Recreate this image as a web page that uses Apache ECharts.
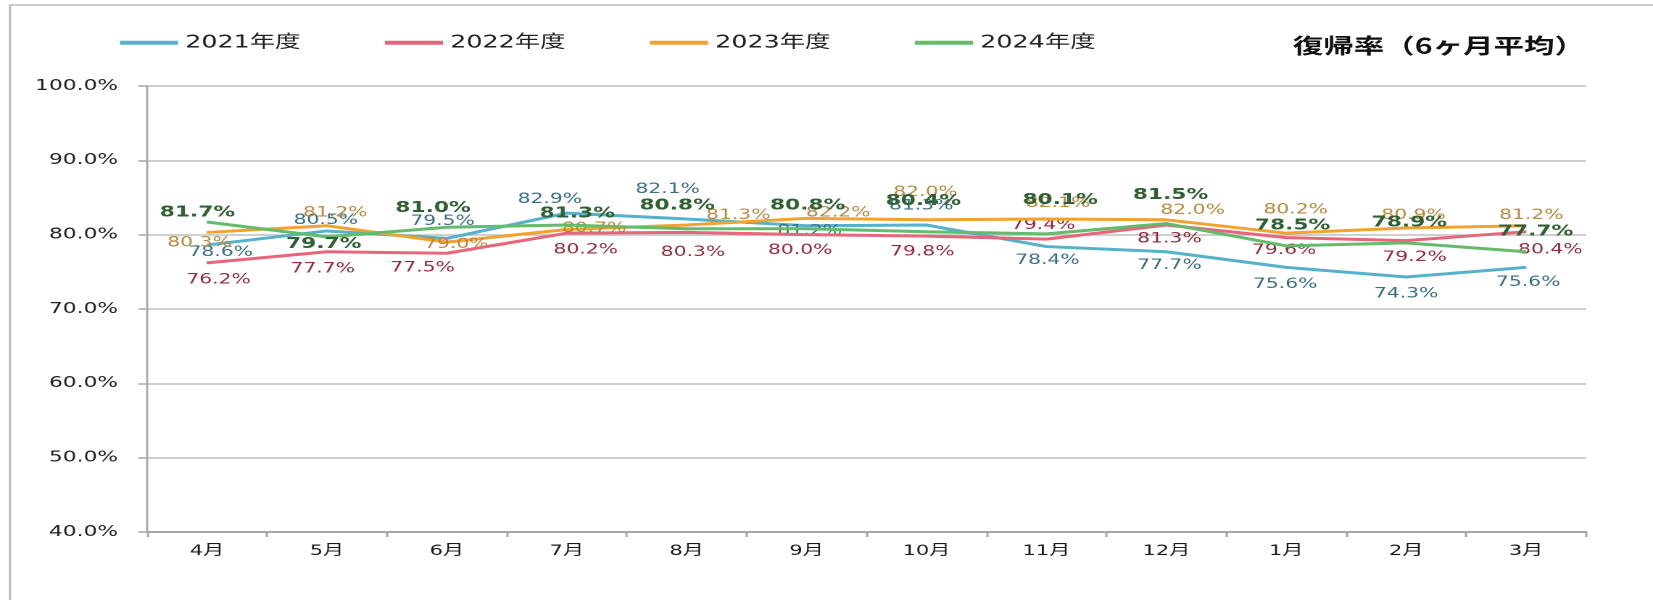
<!DOCTYPE html>
<html>
<head>
<meta charset="utf-8">
<script src="https://cdn.jsdelivr.net/npm/echarts@6/dist/echarts.min.js"></script>
<style>
html,body{margin:0;padding:0;background:#fff;overflow:hidden;width:1653px;height:600px;}
#chart{position:absolute;left:0;top:0;height:600px;transform-origin:0 0;}
</style>
</head>
<body>
<div id="chart"></div>
<script>
// ---- data ----
const categories = ['4月','5月','6月','7月','8月','9月','10月','11月','12月','1月','2月','3月'];
const seriesNames = ['2021年度','2022年度','2023年度','2024年度'];
const values2021 = [78.6, 80.5, 79.5, 82.9, 82.1, 81.2, 81.3, 78.4, 77.7, 75.6, 74.3, 75.6];
const values2022 = [76.2, 77.7, 77.5, 80.2, 80.3, 80.0, 79.8, 79.4, 81.3, 79.6, 79.2, 80.4];
const values2023 = [80.3, 81.2, 79.0, 80.7, 81.3, 82.2, 82.0, 82.1, 82.0, 80.2, 80.9, 81.2];
const values2024 = [81.7, 79.7, 81.0, 81.3, 80.8, 80.8, 80.4, 80.1, 81.5, 78.5, 78.9, 77.7];
const yTickLabels = ['40.0%','50.0%','60.0%','70.0%','80.0%','90.0%','100.0%'];
const titleText = '復帰率（6ヶ月平均）';

// ---- label nudges (reference px: [dx...], [dy...]) ----
const labelDx2021 = [13, -1, -4, -16, -18, 3, -5, 1, 3, -1, 0, 2];
const labelDy2021 = [7, -10, -16, -13, -28, 5, -18, 13, 13, 16, 16, 14];
const labelDx2022 = [11, -4, -23, 18, 6, -6, -4, -3, 3, -2, 8, 23];
const labelDy2022 = [16, 16, 14, 16, 19, 15, 15, -13, 13, 12, 16, 17];
const labelDx2023 = [-7, 8, 9, 26, 49, 30, -1, 11, 25, 9, 7, 5];
const labelDy2023 = [10, -12, 2, -1, -9, -5, -26, -15, -9, -22, -12, -10];
const labelDx2024 = [-9, -3, -13, 10, -9, 1, -3, 13, 4, 6, 3, 9];
const labelDy2024 = [-9, 7, -18, -11, -22, -22, -29, -32, -27, -19, -19, -19];

// ---- layout ----
const S = 1.45;                 // horizontal stretch of the original picture
const REF = 1653 / 1568;
const W = 1653 / S;
const el = document.getElementById('chart');
el.style.width = W + 'px';
el.style.transform = 'scaleX(' + S + ')';

const NUM_FONT = '"DejaVu Sans", "Noto Sans CJK JP", sans-serif';
const lineColors = ['#56b1ca', '#e8667b', '#f2a22e', '#63bb6c'];
const labelColors = ['#396f86', '#922b3e', '#b8893e', '#2f6133'];
const allValues = [values2021, values2022, values2023, values2024];
const allDx = [labelDx2021, labelDx2022, labelDx2023, labelDx2024];
const allDy = [labelDy2021, labelDy2022, labelDy2023, labelDy2024];

const chart = echarts.init(el, null, {devicePixelRatio: 2});

const series = seriesNames.map((name, k) => ({
  name: name,
  type: 'line',
  symbol: 'circle',
  symbolSize: 1,
  z: 2 + k,
  lineStyle: {color: lineColors[k], width: 3},
  itemStyle: {color: lineColors[k]},
  label: {
    show: true,
    position: 'inside',
    formatter: p => p.value.toFixed(1) + '%',
    color: labelColors[k],
    fontFamily: NUM_FONT,
    fontSize: k === 3 ? 15 : 14,
    fontWeight: k === 3 ? 'bold' : 'normal'
  },
  data: allValues[k].map((v, i) => ({
    value: v,
    label: {offset: [allDx[k][i] * REF / S, allDy[k][i] * REF]}
  }))
}));

const legends = seriesNames.map((name, k) => ({
  data: [name],
  left: 120 / S + k * 265 / S,
  top: 34,
  padding: 0,
  icon: 'rect',
  itemWidth: 40,
  itemHeight: 4,
  selectedMode: false,
  textStyle: {fontSize: 17.5, color: '#222', fontFamily: NUM_FONT}
}));

chart.setOption({
  animation: false,
  backgroundColor: '#fff',
  title: {
    text: titleText,
    right: 47,
    top: 35,
    padding: 0,
    textStyle: {fontSize: 21, fontWeight: 'bold', color: '#111', fontFamily: '"Noto Sans CJK JP", sans-serif'}
  },
  legend: legends,
  graphic: [{
    type: 'rect',
    shape: {x: 10 / S, y: 5, width: 2000, height: 1000},
    style: {fill: 'none', stroke: '#bdbdbd', lineWidth: 1.6},
    silent: true
  }],
  grid: {left: 147 / S, right: W - 1586 / S, top: 86, bottom: 68, containLabel: false},
  xAxis: {
    type: 'category',
    data: categories,
    boundaryGap: true,
    axisLine: {show: true, lineStyle: {color: '#a6a6a6', width: 2}},
    axisTick: {show: true, length: 5, lineStyle: {color: '#a6a6a6', width: 1.5}},
    axisLabel: {margin: 12, fontSize: 14.5, color: '#1a1a1a', fontFamily: NUM_FONT}
  },
  yAxis: {
    type: 'value',
    min: 40,
    max: 100,
    interval: 10,
    axisLine: {show: true, lineStyle: {color: '#a6a6a6', width: 1.4}},
    axisTick: {show: true, length: 6, lineStyle: {color: '#a6a6a6', width: 1.5}},
    splitLine: {show: true, lineStyle: {color: '#bfbfbf', width: 1.5}},
    axisLabel: {
      margin: 20,
      fontSize: 15,
      color: '#222',
      fontFamily: NUM_FONT,
      formatter: v => yTickLabels[Math.round((v - 40) / 10)]
    }
  },
  series: series
});
</script>
</body>
</html>
